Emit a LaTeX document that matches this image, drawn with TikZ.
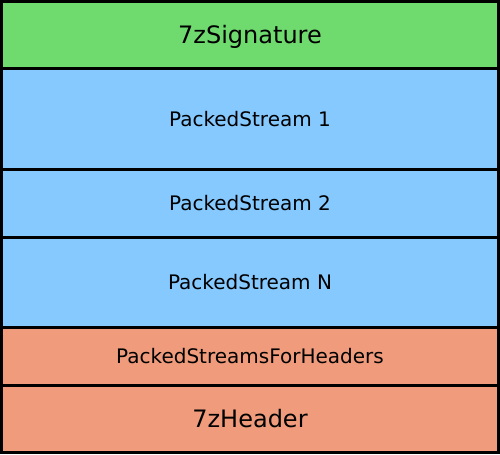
\documentclass[tikz,border=0pt]{standalone}
\usepackage{fontspec}
\setmainfont{DejaVu Sans}
\usepackage{tikz}
\usetikzlibrary{positioning}
\definecolor{sigGreen}{RGB}{111,219,111}
\definecolor{streamBlue}{RGB}{133,201,255}
\definecolor{headSalmon}{RGB}{240,156,124}
\tikzstyle{fBlock} = [rectangle, minimum width=497*0.75pt, text centered, draw=black, line width=1.9pt, outer sep=0pt, inner sep=0pt, text depth=0pt]
\tikzstyle{fSig} = [fBlock, fill=sigGreen, font=\fontsize{18pt}{20pt}\selectfont, text height=13.1pt]
\tikzstyle{fStream} = [fBlock, fill=streamBlue, font=\fontsize{15pt}{17pt}\selectfont, text height=10.9pt]
\tikzstyle{fHeadStream} = [fBlock, fill=headSalmon, font=\fontsize{15pt}{17pt}\selectfont, text height=10.9pt]
\tikzstyle{fHeader} = [fBlock, fill=headSalmon, font=\fontsize{18pt}{20pt}\selectfont, text height=13.1pt]

\begin{document}
\begin{tikzpicture}[x=0.75pt, y=-0.75pt, node distance=0pt]
    \useasboundingbox (0,0) rectangle (500,454);
    \node (signature) [fSig, minimum height=67*0.75pt, anchor=north west] at (1.5,1.5) {7zSignature};
    \node (stream1) [fStream, minimum height=101*0.75pt, below=of signature] {PackedStream 1};
    \node (stream2) [fStream, minimum height=68*0.75pt, below=of stream1] {PackedStream 2};
    \node (streamN) [fStream, minimum height=90*0.75pt, below=of stream2] {PackedStream N};
    \node (headstreams) [fHeadStream, minimum height=58*0.75pt, below=of streamN] {PackedStreamsForHeaders};
    \node (header) [fHeader, minimum height=67*0.75pt, below=of headstreams] {7zHeader};
\end{tikzpicture}
\end{document}
